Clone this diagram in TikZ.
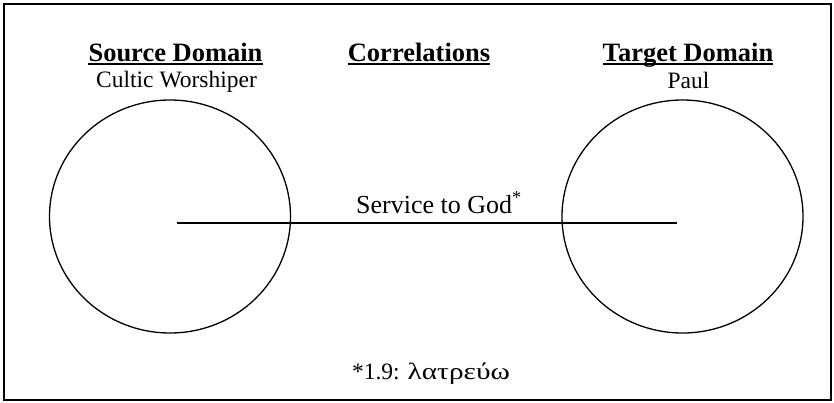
\documentclass[tikz,border=0pt]{standalone}
\usetikzlibrary{shapes.geometric}
\usepackage{fontspec}
\setmainfont{Liberation Serif}
\newfontfamily\greekfont{Liberation Serif}[FakeStretch=1.25]
\begin{document}
\begin{tikzpicture}[x=1pt,y=-1pt,
  head/.style={anchor=base,inner sep=0pt,font=\fontsize{26.5}{30}\selectfont\bfseries},
  textlabel/.style={anchor=base,inner sep=0pt,font=\fontsize{23.5}{28}\selectfont},
  biglabel/.style={anchor=base,inner sep=0pt,font=\fontsize{26}{30}\selectfont},
  domaincircle/.style={ellipse,draw,line width=1.3pt,minimum width=241pt,minimum height=233pt,inner sep=0pt},
  uline/.style={line width=1.6pt}]
\useasboundingbox (0,0) rectangle (834,402);
\draw[line width=1.6pt] (4,4) rectangle (831,400);

% headings
\node[head] (src) at (175.5,61) {Source Domain};
\node[head] (cor) at (419,61) {Correlations};
\node[head] (tgt) at (688,61) {Target Domain};
\foreach \n in {src,cor,tgt}
  \draw[uline] ([yshift=-3pt]\n.base west) -- ([yshift=-3pt]\n.base east);

\node[textlabel] (srcname) at (176.5,87) {Cultic Worshiper};
\node[textlabel] (tgtname) at (688.5,88) {Paul};

% the two domains
\node[domaincircle] (left) at (170,216.5) {};
\node[domaincircle] (right) at (682.5,216.5) {};

\coordinate (a) at ([xshift=7pt,yshift=-6.5pt]left.center);
\coordinate (b) at ([xshift=-5.5pt,yshift=-6.5pt]right.center);
\draw[line width=1.3pt] (a) -- (b);

\node[biglabel] (svc) at (439,213) {Service to God\textsuperscript{*}};
\node[textlabel] (note) at (431,379) {*1.9: {\greekfont λατρεύω}};
\end{tikzpicture}
\end{document}
